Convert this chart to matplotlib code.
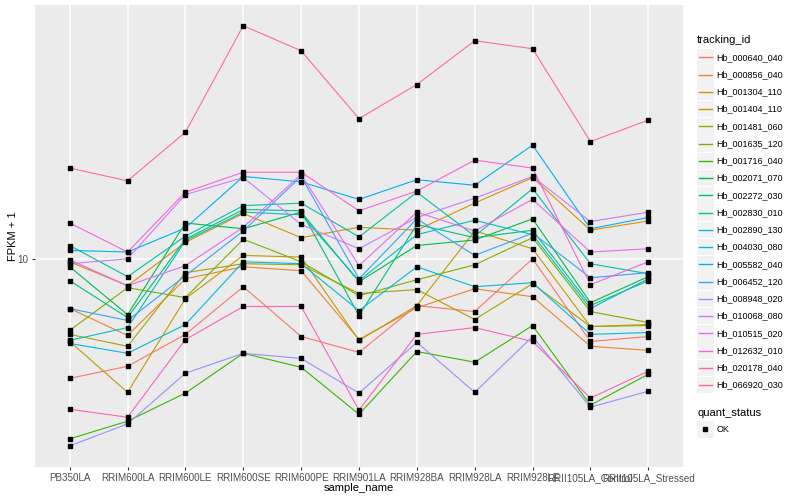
import matplotlib.pyplot as plt
from matplotlib.lines import Line2D
from matplotlib.patches import Rectangle
from matplotlib.ticker import NullLocator

plt.switch_backend("agg")
plt.rcParams["font.family"] = ["Liberation Sans", "DejaVu Sans"]

W, H = 800, 500

samples = ["PB350LA", "RRIM600LA", "RRIM600LE", "RRIM600SE", "RRIM600PE",
           "RRIM901LA", "RRIM928BA", "RRIM928LA", "RRIM928LE",
           "RRII105LA_Control", "RRII105LA_Stressed"]

tracking_ids = ["Hb_000640_040", "Hb_000856_040", "Hb_001304_110", "Hb_001404_110",
                "Hb_001481_060", "Hb_001635_120", "Hb_001716_040", "Hb_002071_070",
                "Hb_002272_030", "Hb_002830_010", "Hb_002890_130", "Hb_004030_080",
                "Hb_005582_040", "Hb_006452_120", "Hb_008948_020", "Hb_010068_080",
                "Hb_010515_020", "Hb_012632_010", "Hb_020178_040", "Hb_066920_030"]

# FPKM + 1 per sample
hb_000640_040 = [5.01, 5.37, 6.46, 8.51, 6.38, 5.82, 7.63, 7.37, 10.0, 6.20, 6.38]
hb_000856_040 = [7.50, 6.42, 8.91, 9.55, 9.33, 6.27, 7.54, 8.41, 8.03, 6.03, 5.89]
hb_001304_110 = [9.83, 8.56, 11.0, 13.0, 11.3, 12.0, 11.8, 13.8, 16.0, 11.8, 12.45]
hb_001404_110 = [6.20, 4.62, 7.94, 10.2, 10.1, 6.24, 7.63, 11.75, 10.6, 6.76, 6.84]
hb_001481_060 = [6.46, 6.03, 9.23, 9.72, 9.66, 8.18, 8.37, 7.04, 8.66, 6.76, 6.80]
hb_001635_120 = [6.61, 8.46, 7.99, 11.2, 9.83, 8.08, 8.86, 9.66, 11.3, 7.37, 6.92]
hb_001716_040 = [3.53, 3.91, 4.60, 5.79, 5.34, 4.07, 5.85, 5.50, 6.80, 4.29, 5.13]
hb_002071_070 = [9.55, 7.24, 12.3, 11.9, 13.1, 8.76, 10.8, 11.15, 12.6, 7.76, 9.02]
hb_002272_030 = [8.81, 7.12, 11.2, 13.3, 13.2, 7.20, 12.2, 11.3, 11.8, 7.63, 8.81]
hb_002830_010 = [10.8, 9.02, 11.4, 13.6, 13.8, 11.35, 14.7, 11.4, 15.0, 9.72, 9.17]
hb_002890_130 = [6.24, 6.72, 11.1, 13.1, 12.9, 8.81, 11.5, 12.5, 11.5, 7.50, 8.91]
hb_004030_080 = [6.13, 5.79, 6.84, 9.83, 9.72, 7.41, 9.55, 8.51, 8.71, 6.46, 6.53]
hb_005582_040 = [10.5, 10.4, 11.95, 16.1, 15.6, 14.1, 15.8, 15.3, 19.3, 11.9, 12.7]
hb_006452_120 = [7.50, 7.00, 9.07, 11.75, 16.1, 8.91, 12.6, 10.2, 11.6, 8.96, 9.23]
hb_008948_020 = [3.39, 3.85, 5.16, 5.79, 5.62, 4.60, 6.17, 4.62, 6.38, 4.24, 4.65]
hb_010068_080 = [9.72, 10.0, 14.5, 16.0, 12.2, 10.6, 12.7, 14.2, 16.1, 12.4, 13.1]
hb_010515_020 = [9.94, 8.56, 9.61, 12.0, 16.3, 9.61, 13.1, 11.75, 14.1, 10.4, 10.6]
hb_012632_010 = [12.3, 10.4, 14.7, 16.5, 16.5, 13.2, 14.8, 17.7, 16.9, 8.61, 9.83]
hb_020178_040 = [4.19, 4.00, 6.27, 7.59, 7.59, 4.17, 6.46, 6.72, 6.20, 4.47, 5.22]
hb_066920_030 = [16.9, 15.7, 20.8, 38.5, 33.3, 22.5, 27.4, 35.3, 33.7, 19.7, 22.3]

series = [hb_000640_040, hb_000856_040, hb_001304_110, hb_001404_110, hb_001481_060,
          hb_001635_120, hb_001716_040, hb_002071_070, hb_002272_030, hb_002830_010,
          hb_002890_130, hb_004030_080, hb_005582_040, hb_006452_120, hb_008948_020,
          hb_010068_080, hb_010515_020, hb_012632_010, hb_020178_040, hb_066920_030]

colors = ["#F8766D", "#EA8331", "#D89000", "#C09B00", "#A3A500", "#7CAE00", "#39B600",
          "#00BB4E", "#00BF7D", "#00C1A3", "#00BFC4", "#00BAE0", "#00B0F6", "#35A2FF",
          "#9590FF", "#C77CFF", "#E76BF3", "#FA62DB", "#FF62BC", "#FF6C90"]


def fx(px):
    return px / W


def fy(py):
    return 1 - py / H


fig = plt.figure(figsize=(W / 100, H / 100), dpi=100)
ax = fig.add_axes([fx(35), fy(467), (683 - 35) / W, (467 - 5) / H])
ax.set_facecolor("#EBEBEB")
for s in ax.spines.values():
    s.set_visible(False)

x = list(range(len(samples)))
for vals, c in zip(series, colors):
    ax.plot(x, vals, color=c, lw=0.8, zorder=2)
for vals in series:
    ax.plot(x, vals, ls="none", marker="s", ms=2.4, color="black", zorder=3)

ax.set_yscale("log")
ax.set_ylim(3.0, 43.4)
ax.set_xlim(-0.6, len(samples) - 0.4)
ax.set_yticks([10])
ax.set_yticklabels(["10"])
ax.yaxis.set_minor_locator(NullLocator())
ax.set_xticks(x)
ax.set_xticklabels(samples)
ax.grid(color="white", lw=1.1)
ax.set_axisbelow(True)
ax.tick_params(length=2.5, width=0.8, color="#333333", labelsize=7.1,
               labelcolor="#4D4D4D", pad=2)

fig.text(fx(13), fy(236), "FPKM + 1", rotation=90, ha="center", va="center", fontsize=8)
fig.text(fx(359), fy(488), "sample_name", ha="center", va="center", fontsize=8)

# legend: tracking_id
fig.text(fx(697), fy(40), "tracking_id", ha="left", va="center", fontsize=8)
for i, (name, c) in enumerate(zip(tracking_ids, colors)):
    yc = 57.3 + i * 17.25
    fig.add_artist(Rectangle((fx(697), fy(yc + 8.3)), 17 / W, 16.6 / H,
                             transform=fig.transFigure, facecolor="#F2F2F2",
                             edgecolor="none", zorder=1))
    fig.add_artist(Line2D([fx(698.5), fx(711.5)], [fy(yc), fy(yc)],
                          transform=fig.transFigure, color=c, lw=1.0, zorder=3))
    fig.text(fx(716.5), fy(yc), name, ha="left", va="center", fontsize=6.5)

# legend: quant_status
fig.text(fx(697), fy(413), "quant_status", ha="left", va="center", fontsize=8)
fig.add_artist(Rectangle((fx(697), fy(429.3 + 8.3)), 17 / W, 16.6 / H,
                         transform=fig.transFigure, facecolor="#F2F2F2", edgecolor="none",
                         zorder=1))
fig.add_artist(Line2D([fx(705)], [fy(429.3)], transform=fig.transFigure,
                      ls="none", marker="s", ms=2.4, color="black", zorder=3))
fig.text(fx(716.5), fy(429.3), "OK", ha="left", va="center", fontsize=6.5)

fig.savefig("out.png", dpi=100)
